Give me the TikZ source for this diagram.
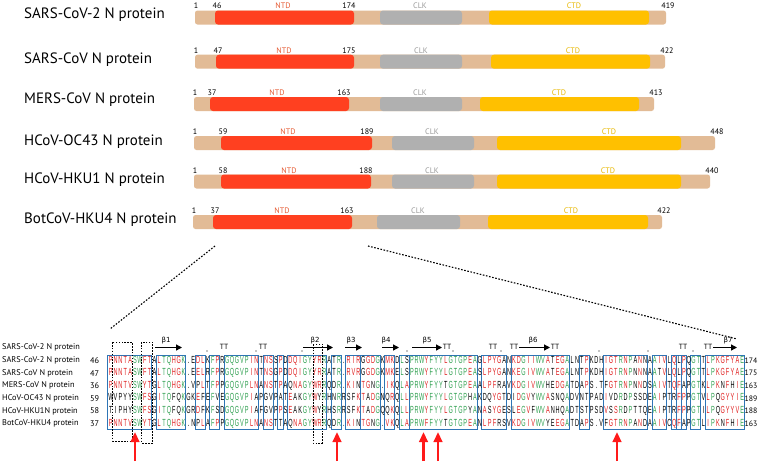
\documentclass[tikz,border=0pt]{standalone}
\usepackage{fontspec}
\setmainfont{PT Sans}
\newfontfamily\seqfont[FakeStretch=0.54]{Liberation Sans}
\newfontfamily\grkfont{DejaVu Sans}
\usetikzlibrary{arrows.meta}

\definecolor{tanc}{HTML}{E2BB96}
\definecolor{ntdc}{HTML}{FF4020}
\definecolor{clkc}{HTML}{B0B0B0}
\definecolor{ctdc}{HTML}{FFC000}
\definecolor{ntdt}{HTML}{E65A32}
\definecolor{clkt}{HTML}{9A9A9A}
\definecolor{ctdt}{HTML}{E8B800}
\definecolor{seqred}{HTML}{E02020}
\definecolor{seqgreen}{HTML}{2FA050}
\definecolor{boxblue}{HTML}{2E75B6}
\definecolor{arrred}{HTML}{FF1A1A}

\ExplSyntaxOn
\intarray_new:Nn \g_rs_box_intarray {200}
\tl_new:N \l_rs_col_tl
\tl_new:N \l_rs_r_tl
\tl_new:N \l_rs_s_tl
\tl_new:N \l_rs_color_tl
\int_new:N \l_rs_cnt_int
\bool_new:N \l_rs_same_bool
\tl_const:Nn \c_rs_dot_tl {.}
\int_step_inline:nn {6}
 {
  \tl_new:c {l_rs_ch_#1_tl}
  \tl_new:c {l_rs_g_#1_tl}
  \tl_new:c {g_rs_line_#1_tl}
  \str_new:c {g_rs_row_#1_str}
 }
\cs_new:Npn \rs_grp:n #1
 {
  \str_case:nnF {#1}
   {
    {A}{a}{V}{a}{I}{a}{L}{a}{M}{a}
    {F}{f}{Y}{f}{W}{f}
    {K}{k}{R}{k}
    {D}{d}{E}{d}
    {N}{n}{Q}{n}
    {S}{s}{T}{s}
   }
   {#1}
 }
\cs_generate_variant:Nn \rs_grp:n {v}
\cs_new_protected:Npn \rs_cell:nn #1#2
 { \hbox_to_wd:nn {4.858pt} { \hfil \textcolor{#1}{#2} \hfil } }
\cs_new_protected:Npn \rs_build:
 {
  \int_step_variable:nNn {131} \l_rs_col_tl
   {
    \int_step_variable:nNn {6} \l_rs_r_tl
     {
      \tl_set:cx {l_rs_ch_ \l_rs_r_tl _tl}
        { \str_item:cn {g_rs_row_ \l_rs_r_tl _str} {\l_rs_col_tl} }
      \tl_set:cx {l_rs_g_ \l_rs_r_tl _tl}
        { \rs_grp:v {l_rs_ch_ \l_rs_r_tl _tl} }
     }
    \bool_set_true:N \l_rs_same_bool
    \int_step_variable:nnnNn {2}{1}{6} \l_rs_r_tl
     {
      \tl_if_eq:ccF {l_rs_ch_ \l_rs_r_tl _tl} {l_rs_ch_1_tl}
        { \bool_set_false:N \l_rs_same_bool }
     }
    \tl_if_eq:cNT {l_rs_ch_1_tl} \c_rs_dot_tl { \bool_set_false:N \l_rs_same_bool }
    \int_step_variable:nNn {6} \l_rs_r_tl
     {
      \int_zero:N \l_rs_cnt_int
      \int_step_variable:nNn {6} \l_rs_s_tl
       {
        \tl_if_eq:ccT {l_rs_g_ \l_rs_r_tl _tl} {l_rs_g_ \l_rs_s_tl _tl}
          { \int_incr:N \l_rs_cnt_int }
       }
      \int_compare:nNnTF { \intarray_item:Nn \g_rs_box_intarray {\l_rs_col_tl} } = {1}
       {
        \bool_if:NTF \l_rs_same_bool
         { \tl_set:Nn \l_rs_color_tl {seqgreen} }
         {
          \int_compare:nNnTF \l_rs_cnt_int > {3}
           { \tl_set:Nn \l_rs_color_tl {seqred} }
           { \tl_set:Nn \l_rs_color_tl {black} }
         }
       }
       { \tl_set:Nn \l_rs_color_tl {black} }
      \tl_if_eq:cNT {l_rs_ch_ \l_rs_r_tl _tl} \c_rs_dot_tl
       { \tl_set:Nn \l_rs_color_tl {black} }
      \tl_gput_right:cx {g_rs_line_ \l_rs_r_tl _tl}
       { \exp_not:N \rs_cell:nn {\l_rs_color_tl} { \tl_use:c {l_rs_ch_ \l_rs_r_tl _tl} } }
     }
   }
 }
\NewDocumentCommand \SetRow {mm} { \str_gset:cn {g_rs_row_#1_str} {#2} }
\NewDocumentCommand \AddBox {mm}
 { \int_step_inline:nnn {#1} {#2} { \intarray_gset:Nnn \g_rs_box_intarray {##1} {1} } }
\NewDocumentCommand \BuildAlignment {} { \rs_build: }
\NewDocumentCommand \SeqLine {m} { \tl_use:c {g_rs_line_#1_tl} }
\ExplSyntaxOff

\SetRow{1}{PNNTASWFTALTQHGK.EDLKFPRGQGVPINTNSSPDDQIGYYRRATR.RIRGGDGKMKDLSPRWYFYYLGTGPEAGLPYGANKDGIIWVATEGALNTPKDHIGTRNPANNAAIVLQLPQGTTLPKGFYAE}
\SetRow{2}{PNNTASWFTALTQHGK.EELRFPRGQGVPINTNSGPDDQIGYYRRATR.RVRGGDGKMKELSPRWYFYYLGTGPEASLPYGANKEGIVWVATEGALNTPKDHIGTRNPNNNAATVLQLPQGTTLPKGFYAE}
\SetRow{3}{PNNTVSWYTGLTQHGK.VPLTFPPGQGVPLNANSTPAQNAGYWRRQDR.KINTGNG.IKQLAPRWYFYYTGTGPEAALPFRAVKDGIVWVHEDGATDAPS.TFGTRNPNNDSAIVTQFAPGTKLPKNFHIE}
\SetRow{4}{WVPYYSWFSGITQFQKGKEFEFVEGQGVPIAPGVPATEAKGYWYRHNRRSFKTADGNQRQLLPRWYFYYLGTGPHAKDQYGTDIDGVYWVASNQADVNTPADIVDRDPSSDEAIPTRFPPGTVLPQGYYIE}
\SetRow{5}{TIPHYSWFSGITQFQKGRDFKFSDGQGVPIAFGVPPSEAKGYWYRHSRRSFKTADGQQKQLLPRWYFYYLGTGPYANASYGESLEGVFWVANHQADTSTPSDVSSRDPTTQEAIPTRFPPGTILPQGYYVE}
\SetRow{6}{PNNTVSWYTGLTQHGK.NPLAFPPGQGVPLNANSTTAQNAGYWRRQDR.KINTGNG.VKQLAPRWFFYYTGTGPEANLPFRSVKDGIVWVYEEGATDAPS.VFGTRNPANDAAIVCQFAPGTLIPKNFHIE}

\def\boxlist{1/9,11/16,19/20,22/23,25/31,33/34,36/36,38/45,47/48,50/52,53/56,58/59,61/62,63/76,78/82,84/95,98/99,103/111,113/115,117/117,118/118,119/119,121/122,124/131}
\foreach \a/\b in \boxlist {\AddBox{\a}{\b}}
\BuildAlignment

\tikzset{
  plab/.style={anchor=west, inner sep=0, font=\fontsize{15}{17}\selectfont},
  numlab/.style={inner sep=0, font=\fontsize{8}{9}\selectfont},
  ntdlab/.style={numlab, text=ntdt},
  clklab/.style={numlab, text=clkt},
  ctdlab/.style={numlab, text=ctdt},
  alab/.style={anchor=west, inner sep=0, font=\fontsize{8.3}{9}\selectfont},
  anum/.style={anchor=west, inner sep=0, font=\fontsize{8.3}{9}\selectfont},
  enum/.style={anchor=east, inner sep=0, font=\fontsize{7.8}{9}\selectfont},
  seqrow/.style={anchor=west, inner sep=0, font=\seqfont\fontsize{10.3}{11}\selectfont},
  seqbox/.style={draw=boxblue, line width=1pt},
  dotbox/.style={draw=black, line width=0.9pt, dash pattern=on 1.6pt off 1.3pt},
  zoomline/.style={draw=black, line width=1.1pt, dash pattern=on 1.6pt off 1.6pt},
  ssarrow/.style={draw=black, line width=1.3pt, -{Triangle[length=6pt,width=6pt]}},
  sslab/.style={inner sep=0, font=\grkfont\fontsize{7}{8}\selectfont},
  ttlab/.style={inner sep=0, font=\fontsize{7.5}{8}\selectfont},
  redarrow/.style={draw=arrred, line width=2.6pt, -{Triangle[length=10pt,width=8.5pt]}}
}

\begin{document}
\begin{tikzpicture}[x=1pt,y=-1pt]
\useasboundingbox (0,0) rectangle (758,461);
\fill[white] (0,0) rectangle (758,461);

% ---------- domain bars ----------
\foreach \i/\lab/\yl/\yb/\bs/\be/\ns/\ne/\cs/\ce/\ts/\te/\na/\nb/\nc/\yn/\xn/\xc/\xt in {
 1/SARS-CoV-2 N protein/15/17.5/195/666/215/354/380/462/489/649/46/174/419/6/283/420/574,
 2/SARS-CoV N protein/60/61.7/195/665/216/354/380/462/491/650/47/175/422/50.5/284/421/573,
 3/MERS-CoV N protein/100/104/194/654/210/349/380/462/480/639/37/163/413/92.5/277/420/559,
 4/HCoV-OC43 N protein/142/143/194/715/221/372/392/474/497/681/59/189/448/131.5/288/432/609,
 5/HCoV-HKU1 N protein/180/181.5/194/710/221/371/392/474/497/681/58/188/440/170.5/289/432/608,
 6/BotCoV-HKU4 N protein/220/222/193/662/213/352/377/460/488/648/37/163/422/211/282/418/571}
{
  \node[plab] (p\i) at (24,\yl) {\lab};
  \fill[tanc, rounded corners=2.5pt] (\bs,\yb-7) rectangle (\be,\yb+7);
  \fill[ntdc, rounded corners=3pt] (\ns,\yb-7) rectangle (\ne,\yb+7);
  \fill[clkc, rounded corners=3pt] (\cs,\yb-7) rectangle (\ce,\yb+7);
  \fill[ctdc, rounded corners=3pt] (\ts,\yb-7) rectangle (\te,\yb+7);
  \node[numlab] (n1\i) at (\bs+1,\yn) {1};
  \node[numlab] (n2\i) at (\ns+2,\yn) {\na};
  \node[numlab] (n3\i) at (\ne-5,\yn) {\nb};
  \node[numlab] (n4\i) at (\be+2,\yn) {\nc};
  \node[ntdlab] (tn\i) at (\xn,\yn) {NTD};
  \node[clklab] (tc\i) at (\xc,\yn) {CLK};
  \node[ctdlab] (tt\i) at (\xt,\yn) {CTD};
}

% ---------- zoom lines ----------
\coordinate (zA) at (215,246);
\coordinate (zB) at (110,329);
\coordinate (zC) at (368,246);
\coordinate (zD) at (737,339);
\draw[zoomline] (zA) -- (zB);
\draw[zoomline] (zC) -- (zD);

% ---------- secondary structure ----------
\node[alab] (hdr) at (2,347) {SARS-CoV-2 N protein};
\foreach \a/\b/\lx/\k in {155/182/166/1, 303/333/315/2, 345/362/351/3, 382/399/386/4, 412/442/427/5, 519/550/533/6, 713/737/728/7}
{
  \coordinate (bs\k) at (\a,347.5);
  \coordinate (be\k) at (\b,347.5);
  \draw[ssarrow] (bs\k) -- (be\k);
  \node[sslab] (bl\k) at (\lx,340.5) {β\k};
}
\foreach \x [count=\j] in {224,263,447,493,514,555,683,708}
  \node[ttlab] (tt\j) at (\x,346.5) {TT};
\foreach \x in {207,256,302,407,453,501,599,648,693}
  \fill (\x,351) circle (0.55);

% ---------- blue boxes ----------
\foreach \a/\b in \boxlist
  \draw[seqbox] ({110.5+4.858*(\a-1)-2.6},355) rectangle ({110.5+4.858*(\b-1)+2.6},429);

% ---------- aligned sequences ----------
\foreach \r/\lab/\st/\en in {1/SARS-CoV-2 N protein/46/174, 2/SARS-CoV N protein/47/175, 3/MERS-CoV N protein/36/163, 4/HCoV-OC43 N protein/59/189, 5/HCoV-HKU1N protein/58/188, 6/BotCoV-HKU4 protein/37/163}
{
  \pgfmathsetmacro\yy{360.7+12.55*(\r-1)}
  \node[alab] (al\r) at (2,\yy) {\lab};
  \node[anum] (as\r) at (90,\yy) {\st};
  \node[seqrow] (sq\r) at (108.07,\yy) {\SeqLine{\r}};
  \node[enum] (ae\r) at (757.5,\yy) {\en};
}

% ---------- dotted boxes ----------
\draw[dotbox] (112.7,342) rectangle (132,441);
\draw[dotbox] (141.7,342) rectangle (152.3,443);
\draw[dotbox] (313,344) rectangle (322,443);

% ---------- red arrows ----------
\foreach \x [count=\j] in {135,337,423.5,438,617}
{
  \coordinate (ra\j) at (\x,461);
  \coordinate (rb\j) at (\x,432);
  \draw[redarrow] (ra\j) -- (rb\j);
}
\end{tikzpicture}
\end{document}
